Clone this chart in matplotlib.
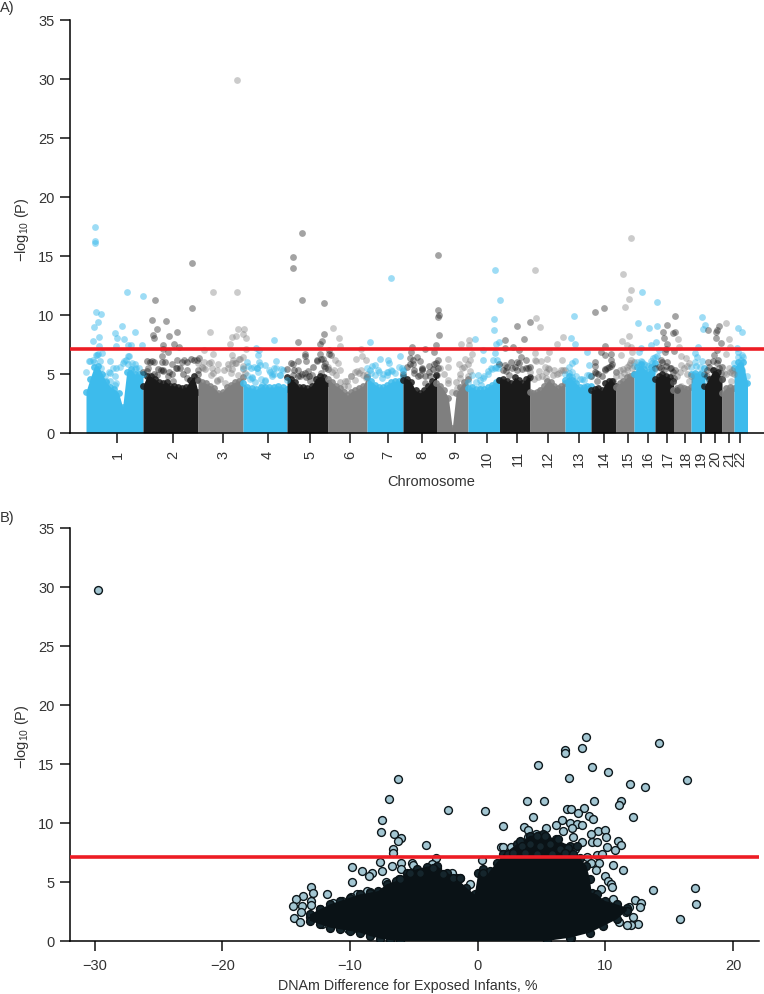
import numpy as np
import matplotlib
matplotlib.use("Agg")
import matplotlib.pyplot as plt

plt.rcParams['font.family'] = ['Liberation Sans', 'DejaVu Sans']
plt.rcParams['mathtext.default'] = 'regular'

W, H = 764, 995
BLUE, DARK, GRAY = '#3DBBEC', '#1A1A1A', '#7F7F7F'
RED = '#ED1C24'
TXT = '#333333'

### Panel A data: genome position is in axis units along the x axis
chrom_names = [str(i) for i in range(1, 23)]
chrom_ticks = [117.5, 173, 223.5, 268, 310, 350, 388, 422.5, 455.5, 487, 517.5,
               548, 578.7, 604, 628, 648, 667.5, 685.5, 701, 715, 729, 740.5]
chrom_edges = [86, 143, 198, 243, 287, 328, 367, 403, 436.5, 468, 499.5, 530,
               565, 591, 616, 634, 655, 673.5, 691, 704.5, 722, 734, 747.5]
chrom_colors = [BLUE, DARK, GRAY] * 7 + [BLUE]

# top of the solid part of each chromosome, left to right
chrom_tops = [
    [3.5, 4.6, 5.6, 5.7, 5.0, 4.3, 3.9, 3.7, 3.4, 2.2, 5.2, 5.4, 5.0, 5.0, 5.0],
    [4.0, 4.8, 4.8, 4.6, 4.3, 4.2, 4.3, 4.0, 4.0, 3.9, 3.8, 3.9, 4.5, 4.8, 3.5],
    [4.5, 4.3, 4.2, 4.0, 3.8, 3.4, 3.5, 3.9, 4.1, 4.3, 4.4, 4.7],
    [4.2, 3.9, 3.8, 3.7, 3.9, 3.9, 3.9, 3.9, 4.0, 3.9, 3.7],
    [4.7, 4.6, 4.3, 3.9, 3.9, 3.8, 4.0, 4.6, 4.8, 4.7, 4.2],
    [4.6, 4.3, 4.0, 3.8, 3.5, 3.2, 3.5, 3.6, 3.8, 4.0, 4.7],
    [4.7, 4.4, 4.1, 3.9, 3.9, 4.1, 4.3, 4.4, 4.4, 4.8],
    [4.5, 4.6, 4.3, 3.6, 3.4, 3.6, 4.0, 4.4, 4.9],
    [4.2, 4.0, 3.6, 3.0, 0.4, 3.4, 3.9, 4.3, 4.6],
    [3.8, 3.9, 3.7, 3.7, 3.7, 3.9, 4.1, 4.3, 4.5],
    [4.5, 4.6, 4.4, 4.2, 4.7, 4.5, 4.2, 4.6, 4.7],
    [3.5, 3.4, 3.5, 3.6, 4.0, 4.4, 4.3, 4.0, 3.8, 4.0, 4.2],
    [4.5, 4.8, 4.5, 4.2, 3.9, 3.9, 4.0, 4.0],
    [3.6, 3.7, 3.8, 3.6, 4.2, 4.4, 4.4, 4.0],
    [3.9, 4.2, 4.4, 4.7, 4.8, 5.0],
    [5.0, 5.6, 5.8, 5.4, 5.2, 5.6, 5.9],
    [4.6, 4.8, 5.0, 4.8, 4.7, 4.4],
    [3.6, 3.8, 3.9, 3.8, 3.7, 3.9],
    [5.0, 5.1, 5.0, 4.8],
    [4.0, 4.6, 5.3, 5.2, 4.6],
    [3.4, 3.8, 3.9, 3.8],
    [5.5, 6.0, 6.0, 4.2],
]

# loose points just above the solid part
chrom_fringe = [
    [5.2, 6.1, 6.0, 6.6, 5.5, 4.8, 5.2, 5.5, 4.2, 5.6, 6.1, 6.5, 5.9, 5.4, 5.5, 5.0],
    [5.2, 6.1, 6.0, 5.0, 5.4, 5.3, 6.0, 5.2, 5.0, 5.5, 5.5, 5.0, 6.0, 6.3, 6.2, 5.0],
    [5.9, 5.6, 5.4, 5.9, 5.1, 4.4, 4.6, 5.3, 5.8, 5.4, 5.9, 6.3, 5.4],
    [5.5, 4.9, 4.6, 5.6, 5.2, 4.6, 4.5, 5.3, 5.0, 5.5, 4.9, 5.3, 4.5],
    [5.4, 5.9, 5.3, 4.8, 5.0, 4.7, 4.8, 5.6, 6.2, 6.3, 5.7, 5.4],
    [5.6, 5.2, 4.9, 4.3, 4.0, 4.4, 4.8, 5.2, 5.1, 4.9, 5.0],
    [5.5, 5.1, 4.9, 5.2, 5.0, 5.2, 5.3, 5.1, 5.6, 5.3],
    [5.0, 5.6, 5.8, 5.3, 4.8, 5.4, 4.8, 5.2, 5.4, 5.9],
    [5.3, 5.5, 5.0, 4.2, 3.5, 4.3, 5.0, 5.6, 5.8],
    [4.3, 4.9, 4.3, 4.5, 4.8, 5.0, 5.4, 5.6, 5.8],
    [5.8, 5.3, 5.6, 6.0, 5.6, 5.9, 5.4, 5.5, 5.6],
    [5.2, 4.6, 4.7, 4.8, 5.2, 5.4, 4.9, 5.0, 5.3, 5.3],
    [5.0, 5.6, 5.2, 4.8, 4.6, 4.5, 4.9, 4.8],
    [4.8, 5.2, 5.0, 4.8, 5.4, 5.6, 5.8, 5.2],
    [4.8, 5.3, 5.4, 5.6, 5.9, 6.0],
    [5.7, 6.0, 6.1, 5.8, 5.7, 6.1, 6.4],
    [5.5, 5.6, 6.0, 5.7, 5.5, 5.2],
    [4.3, 4.8, 5.2, 5.5, 5.0, 4.8],
    [5.6, 6.0, 5.6, 5.5],
    [5.0, 5.6, 6.1, 6.2, 5.6],
    [4.6, 5.0, 5.2, 5.0],
    [5.9, 6.4, 6.4, 4.8],
]

blue_pos = [94.7, 94.7, 94.7, 96, 101, 97.7, 94.3, 122, 115, 116.7, 124, 135.3, 99.3, 92.7, 126.7, 143, 99, 116,
            128.3, 130.7, 141.7, 98.3, 101.7, 95.7, 89.3, 92.7, 100, 109.7, 129, 126, 122.7, 135, 116, 110, 115,
            115, 106, 110, 136, 128.3,
            255.7, 247.3, 258.3, 248.3, 256.7, 252.3, 273.7, 259, 276, 259, 265, 257.3, 260, 281, 270, 274.3,
            274, 251, 265, 271.7, 280, 251.7, 255, 261.7,
            390.7, 370.3, 400.3, 380, 387.7, 389, 375, 371.7, 370, 378.3, 388.3, 391.7, 401.7, 403.3, 381.7, 386.7,
            495.3, 500.3, 494, 493.7, 474.7, 498.7, 496, 483.3, 495, 492.7, 483.3, 496.7, 490.7, 495, 498.3, 488.3,
            478.3, 483.3, 481,
            573.7, 571, 575.3, 587, 574.7, 572.3, 589, 569, 589, 572.3, 581.7, 574,
            642, 656.7, 638.3, 649, 656.7, 655.7, 651, 640.7, 659, 639, 653, 656.7, 642.3, 639, 645.7, 652.3,
            640.7, 654, 647.3,
            702.3, 705, 703.3, 698, 694.7, 697.3, 702.3, 695.7, 704, 700.7, 694.3, 704,
            738, 741.7, 736.7, 738.3, 742.3, 740.7, 739.7, 742.3, 739, 744.7]
blue_p = [17.47, 16.29, 16.06, 10.27, 10.05, 9.43, 8.95, 9.03, 8.44, 8.04, 7.99, 8.58, 8.1, 7.76, 11.91, 11.63, 7.34, 7.34,
          7.45, 7.45, 7.48, 6.7, 6.77, 6.63, 6.12, 6.2, 6.07, 6.12, 6.55, 6.2, 5.93, 5.87, 5.5, 5.08, 4.8,
          4.1, 4.37, 4.37, 5.5, 5.87,
          7.2, 6.0, 6.58, 5.64, 5.5, 4.66, 7.85, 7.06, 6.12, 5.98, 5.73, 5.5, 5.73, 5.42, 5.17, 5.5,
          5.02, 5.5, 4.37, 4.8, 4.94, 4.71, 4.32, 4.09,
          13.15, 7.71, 6.55, 6.27, 6.18, 5.93, 5.73, 5.64, 5.36, 5.36, 5.17, 5.22, 5.5, 5.22, 4.66, 4.94,
          13.83, 11.29, 9.62, 8.75, 7.99, 7.68, 7.51, 7.06, 6.77, 6.2, 6.2, 6.2, 5.5, 5.5, 5.5, 5.22,
          4.88, 4.66, 4.09,
          9.93, 8.02, 7.51, 6.89, 6.12, 5.93, 5.79, 5.08, 4.94, 4.71, 4.6, 4.37,
          11.94, 11.06, 9.34, 8.86, 9.03, 7.73, 7.48, 7.2, 7.06, 6.83, 6.35, 6.49, 6.0, 5.79, 5.79, 5.93,
          5.36, 5.36, 4.94,
          9.85, 9.12, 8.83, 7.25, 6.77, 6.41, 6.12, 5.64, 5.5, 5.08, 4.94, 4.52,
          8.89, 8.52, 7.2, 6.83, 6.58, 6.2, 5.79, 5.36, 4.94, 4.23]

dark_pos = [154.7, 192.3, 192.3, 152.3, 166, 156.7, 153.3, 154.3, 169, 176.7, 162.7, 162.7, 173.7, 179, 167.7, 162,
            162.3, 171.7, 176.7, 184.3, 181.7, 196.7, 199, 151.7, 154.3, 148.3, 162.7, 163.3, 176.7, 186.7, 198.3,
            156.7, 168.3, 173.3, 186.7, 196.7, 146.7,
            302, 293, 293, 302, 324, 324, 322, 297.7, 320, 329, 305, 305, 305.7, 319.7, 329, 331, 322.7, 316.7,
            325, 298.3, 292.7, 297.7, 325, 307.7, 305, 320.7, 293.3, 300, 311.7, 310,
            438.3, 438.3, 439.3, 438, 438.7, 435.7, 412.3, 424.7, 411.3, 433.7, 410.3, 413.3, 412.7, 417, 420,
            438.3, 434.3, 429, 421.7, 422.3, 438.3, 414.3, 430, 420, 436.7, 425,
            505, 517.3, 530.3, 523.7, 513, 519, 505, 520.7, 517.3, 525.7, 505, 512.3, 528, 516.7, 505.7, 509, 529,
            595, 604.3, 604.7, 600.7, 605, 610.7, 595, 611, 594.7, 610.7, 604.7, 607.3, 595.7, 613.3, 597.3,
            675, 666.7, 675.3, 672.7, 662.7, 664, 667.3, 666.3, 665, 674, 660.7, 667.3, 660.7, 670.7, 675, 664,
            659, 674, 676.7,
            708, 719.3, 717.3, 716, 715.7, 720.7, 717.3, 714, 708, 717.3, 719, 707.3, 707.3, 714, 720.7]
dark_p = [11.23, 14.42, 10.56, 9.6, 9.46, 8.8, 8.27, 8.02, 8.19, 8.52, 7.45, 7.11, 7.51, 7.28, 6.89, 6.55,
          6.0, 5.87, 6.2, 6.2, 6.0, 6.2, 6.35, 6.07, 6.0, 5.5, 5.36, 5.22, 5.5, 5.36, 5.36,
          4.94, 4.8, 4.37, 4.66, 4.5, 5.22,
          16.9, 14.9, 13.97, 11.29, 10.98, 8.38, 7.82, 7.68, 7.54, 7.06, 6.72, 6.49, 6.12, 6.69, 6.72, 6.63, 6.27, 6.12,
          5.93, 6.07, 5.84, 5.36, 5.5, 5.28, 5.08, 5.08, 4.94, 4.8, 4.94, 4.37,
          15.04, 10.41, 9.99, 9.82, 8.27, 7.48, 7.28, 7.14, 6.86, 6.83, 6.35, 6.2, 5.87, 6.44, 6.07,
          6.2, 5.84, 5.64, 5.5, 5.36, 5.5, 5.08, 4.8, 4.94, 4.94, 4.23,
          7.9, 9.09, 9.37, 7.96, 7.28, 7.06, 7.2, 6.41, 6.0, 6.2, 5.78, 5.5, 5.5, 5.36, 5.22, 4.94, 4.66,
          10.27, 10.56, 7.34, 6.86, 6.63, 6.69, 6.0, 6.2, 5.64, 5.7, 5.36, 5.5, 5.08, 4.43, 4.37,
          9.93, 9.12, 8.52, 8.47, 8.52, 8.04, 7.54, 7.14, 6.83, 6.92, 6.2, 6.0, 5.5, 5.5, 5.36, 5.36,
          4.52, 4.66, 3.67,
          8.72, 9.03, 8.69, 8.55, 8.02, 7.62, 7.06, 6.63, 6.0, 5.93, 5.5, 5.36, 4.8, 5.36, 5.08]

gray_pos = [237, 213, 237, 210.3, 238, 244, 232.3, 236.3, 243, 245.7, 230.3, 245.7, 204.3, 212.7, 232.3, 233.3, 242.7, 240,
            204.3, 210.7, 203.3, 217.7, 211.7, 232.3, 236, 243.3, 228.3, 216.7, 230.7, 238.3, 211, 217.3, 225, 245,
            333.3, 339, 340.3, 361.3, 361.7, 356.3, 366, 334.7, 337.7, 334.3, 340, 361, 356.7, 365.7, 351, 355, 345, 348.3,
            461, 469, 469, 471.7, 447.7, 465, 470, 459, 448, 461.7, 470, 460, 468, 456.7, 448.3,
            535, 536, 540, 563, 557, 549, 534.7, 535, 561.7, 540.7, 536.3, 547.3, 545, 548, 554, 563.3, 539, 540.7, 559, 545.7,
            631, 623, 631, 628.7, 625, 629, 621.7, 627.3, 631.3, 621, 632.3, 630.7, 629, 632.3, 627.3, 621.3, 624,
            678, 679, 680.7, 685.7, 689, 680.7, 686.7, 689, 680.7,
            725.7, 729.3, 729.7, 725.7, 729, 732.3, 731.7, 730.7, 724]
gray_p = [29.84, 11.94, 11.94, 8.52, 8.8, 8.8, 8.1, 8.19, 8.41, 8.02, 7.54, 7.14, 7.06, 6.72, 6.63, 6.2, 6.44, 6.27,
          6.0, 6.0, 5.5, 5.87, 5.5, 5.93, 5.93, 5.64, 5.5, 5.36, 5.08, 4.94, 4.94, 4.52, 4.23, 5.08,
          8.86, 8.07, 7.34, 7.11, 6.49, 6.27, 6.2, 6.2, 5.93, 5.36, 5.36, 5.31, 5.22, 4.66, 4.8, 4.52, 4.37, 3.95,
          7.54, 7.9, 7.42, 6.72, 6.29, 6.27, 6.2, 5.84, 5.59, 5.5, 5.22, 4.66, 4.8, 3.81, 4.52,
          13.77, 9.71, 9.0, 8.1, 7.56, 6.83, 6.77, 6.2, 6.18, 6.07, 6.07, 6.27, 5.56, 5.5, 5.36, 5.36, 5.22, 3.67, 5.08, 4.66,
          16.48, 13.43, 12.14, 11.32, 10.64, 8.21, 7.82, 7.42, 7.25, 6.63, 6.83, 6.2, 5.79, 5.5, 5.31, 4.8, 5.08,
          7.93, 7.25, 6.49, 6.32, 5.93, 5.79, 5.64, 4.37, 3.95,
          9.31, 7.96, 7.25, 6.72, 5.5, 5.36, 5.08, 4.37, 5.08]

threshold = 7.1

### Panel B data
diff_x = [-29.75, -6.24, -6.95, -7.52, -7.6, -6.55, -6.0, -6.24, -4.07, -6.6, -6.6, -3.26, -2.32, 0.6, 1.96, 1.83, 2.0, 0.31,
          -7.65, -6.68, -5.98, -5.98, -5.12, -5.04, -9.84, -9.09, -7.47, -8.3, -8.51, -9.82, -7.18, -6.16, -1.98, -1.38,
          -3.6, -3.2, -0.6, -13.08, -12.93, -13.71, -14.23, -11.78, -13.08, -13.08, -14.44, -13.79, -13.84, -14.39,
          -13.94, -13.13, -12.22, -12.43, -11.31, -10.13, -9.87, -9.22, -8.69, -8.43, -9.48, -9.92, -10.65, -11.31, -12.35,
          8.46, 14.19, 6.85, 6.8, 8.18, 4.69, 8.98, 10.21, 7.14, 16.43, 11.95, 13.13, 3.88, 5.21, 9.11, 11.25, 11.09,
          7.0, 7.32, 8.33, 7.86, 4.3, 8.7, 9.04, 12.16, 6.59, 6.12, 7.21, 7.79, 8.18, 7.4, 6.69, 3.59, 5.36, 3.92,
          9.45, 9.95, 8.85, 10.05, 7.5, 3.96, 4.56, 5.34, 10.96, 11.22, 8.98, 9.32, 8.14, 10.16, 10.76, 3.33, 6.07,
          6.87, 2.6, 3.64, 4.69, 7.13, 7.65, 9.32, 9.77, 8.54, 8.91, 9.5, 10.6, 11.41, 9.97, 9.24, 10.23, 10.42, 9.69,
          10.55, 13.7, 17.03, 17.06, 15.86, 12.32, 12.81, 12.71, 12.19, 12.58, 11.98, 11.67, 11.07, 11.85, 11.59, 10.63, 7.29]
diff_p = [29.75, 13.7, 12.04, 10.2, 9.25, 9.02, 8.74, 8.46, 8.12, 7.81, 7.42, 7.05, 11.11, 10.97, 9.73, 7.92, 7.92, 6.82,
          6.66, 6.35, 6.63, 6.09, 6.63, 6.46, 6.23, 5.89, 5.89, 5.72, 5.53, 4.99, 4.99, 5.22, 5.72, 5.36,
          6.49, 6.2, 4.82, 4.6, 4.06, 3.81, 3.53, 3.98, 3.38, 3.05, 2.96, 2.96, 2.45, 1.92,
          1.64, 2.03, 1.41, 2.06, 1.49, 1.04, 1.04, 0.93, 4.23, 4.15, 3.95, 3.72, 3.38, 3.19, 2.74,
          17.3, 16.75, 16.13, 15.9, 16.36, 14.92, 14.75, 14.3, 13.82, 13.65, 13.31, 13.06, 11.84, 11.84, 11.84, 11.84, 11.53,
          11.2, 11.2, 11.22, 10.86, 10.46, 10.58, 10.29, 10.46, 10.21, 9.84, 9.95, 9.9, 9.84, 9.53, 9.28, 9.64, 9.56, 9.36,
          9.28, 9.39, 9.02, 8.8, 8.8, 8.83, 9.02, 8.83, 8.49, 8.15, 8.4, 8.4, 8.38, 7.95, 7.7, 8.38, 8.32,
          7.9, 7.95, 7.9, 8.32, 7.9, 7.75, 7.28, 7.33, 7.11, 6.63, 6.57, 6.46, 6.03, 5.5, 6.0, 5.05, 4.79, 4.37,
          4.6, 4.29, 4.46, 3.1, 1.89, 3.44, 3.24, 2.88, 2.06, 1.41, 1.33, 1.33, 1.64, 2.88, 2.48, 3.53, 0.28]

# outline of the solid cloud
upper_x = [-13.13, -12.35, -11.57, -10.78, -10.0, -9.22, -8.44, -7.79, -7.14, -6.36, -5.57, -4.79, -4.0, -3.22, -2.44,
           -1.66, -0.88, -0.23, 0.05, 0.44, 0.83, 0.96, 1.48, 2.0, 3.05, 4.09, 5.13, 6.17, 7.22, 8.0, 8.52, 8.79, 8.92,
           9.32, 9.97, 10.88, 11.67]
upper_p = [2.26, 2.69, 3.1, 3.39, 3.67, 3.95, 4.09, 4.23, 4.8, 5.08, 5.79, 6.07, 6.3, 6.35, 5.79,
           5.36, 4.5, 3.95, 5.79, 6.07, 5.7, 5.93, 6.63, 7.34, 8.18, 8.9, 9.03, 8.6, 8.04, 7.05, 6.35, 5.22, 4.09,
           3.95, 3.39, 3.1, 2.83]
lower_x = [-13.13, -12.35, -11.57, -10.78, -10.0, -9.22, -8.44, -7.66, -6.87, -6.1, 5.4, 7.23, 8.79, 9.84, 10.88, 11.67]
lower_p = [1.7, 1.41, 1.13, 0.99, 0.85, 0.71, 0.42, 0.2, 0.08, 0, 0, 0.28, 0.71, 1.27, 1.83, 2.55]

# overlapping points along the top of the cloud
dense_x = [4.62, 5.27, 5.66, 6.31, 3.31, 3.44, 4.1, 4.88, 7.1, 7.75, 6.44, 2.4, 2.79, 3.7, 4.62, 5.79, 6.84, 7.49,
           -5.3, -4.52, -3.47, -2.69, -1.91, -1.39, -6.08, 0.44]
dense_p = [8.89, 8.89, 8.18, 8.6, 8.46, 8.04, 8.18, 8.04, 7.9, 8.04, 7.76, 7.33, 7.48, 7.48, 7.33, 7.33, 7.48, 7.33,
           5.79, 5.79, 6.21, 5.65, 5.36, 5.36, 5.22, 5.79]


def place(left, right, bottom, top):
    return [left / W, 1 - bottom / H, (right - left) / W, (bottom - top) / H]


def style(ax):
    ax.spines['top'].set_visible(False)
    ax.spines['right'].set_visible(False)
    ax.spines['left'].set_linewidth(1.1)
    ax.spines['bottom'].set_linewidth(1.1)
    ax.set_ylim(0, 35)
    ax.set_yticks(range(0, 40, 5))
    ax.tick_params(length=7.2, width=1.1, labelsize=10.5, labelcolor=TXT, color='#111111')
    ax.tick_params(axis='y', pad=4)
    ax.set_facecolor('none')


fig = plt.figure(figsize=(W / 100, H / 100), dpi=100)

# A) Manhattan plot
ax = fig.add_axes(place(70, 764, 434, 20.5))
style(ax)
ax.set_xlim(70, 764)
for i, tops in enumerate(chrom_tops):
    xs = np.linspace(chrom_edges[i], chrom_edges[i + 1], len(tops))
    ax.fill_between(xs, 0, tops, color=chrom_colors[i], lw=0, zorder=2)
    ax.scatter(xs, tops, s=24, color=chrom_colors[i], alpha=0.85, lw=0, zorder=2)
    fringe = chrom_fringe[i]
    fx = np.linspace(chrom_edges[i], chrom_edges[i + 1], len(fringe))
    ax.scatter(fx, fringe, s=24, color=chrom_colors[i], alpha=0.45, lw=0, zorder=3)

ax.scatter(blue_pos, blue_p, s=24, color=BLUE, alpha=0.5, lw=0, zorder=3)
ax.scatter(dark_pos, dark_p, s=24, color=DARK, alpha=0.4, lw=0, zorder=3)
ax.scatter(gray_pos, gray_p, s=24, color=GRAY, alpha=0.4, lw=0, zorder=3)
ax.axhline(threshold, color=RED, lw=2.6, zorder=5)
ax.set_xticks(chrom_ticks)
ax.set_xticklabels(chrom_names, rotation=90)
ax.tick_params(axis='x', pad=5)

# B) effect size against significance
bx = fig.add_axes(place(70, 759, 942, 528.5))
style(bx)
bx.set_xlim(-31.93, 22.03)
lit = dict(s=32, facecolor='#A3C6D2', edgecolor='#0D171B', linewidth=1.0)
shade = dict(s=32, facecolor='#15252C', edgecolor='#0A1216', linewidth=1.0)
bx.scatter(diff_x, diff_p, zorder=2, **lit)
bx.scatter(upper_x, upper_p, zorder=3, **shade)
bx.scatter(lower_x, lower_p, zorder=3, **shade)
bx.fill(upper_x + lower_x[::-1], upper_p + lower_p[::-1], color='#0A1216', lw=0, zorder=3)
bx.scatter(dense_x, dense_p, zorder=3, **shade)
bx.axhline(threshold, color=RED, lw=2.6, zorder=5)
bx.set_xticks(range(-30, 30, 10))
bx.set_xticklabels(['\u221230', '\u221220', '\u221210', '0', '10', '20'])
bx.tick_params(axis='x', pad=5)

# labels placed by hand like the journal figure
ylab = '\u2212log$_{10}$ (P)'
fig.text(22 / W, 1 - 230 / H, ylab, rotation=90, ha='center', va='center', fontsize=10.5, color=TXT)
fig.text(22 / W, 1 - 737 / H, ylab, rotation=90, ha='center', va='center', fontsize=10.5, color=TXT)
fig.text(430.7 / W, 1 - 481.7 / H, 'Chromosome', ha='center', va='center', fontsize=10.5, color=TXT)
fig.text(408 / W, 1 - 986 / H, 'DNAm Difference for Exposed Infants, %', ha='center', va='center',
         fontsize=10.3, color=TXT)
fig.text(0, 1 - 8 / H, 'A)', ha='left', va='center', fontsize=10.5, color=TXT)
fig.text(0, 1 - 518 / H, 'B)', ha='left', va='center', fontsize=10.5, color=TXT)

fig.savefig('out.png', dpi=100)
